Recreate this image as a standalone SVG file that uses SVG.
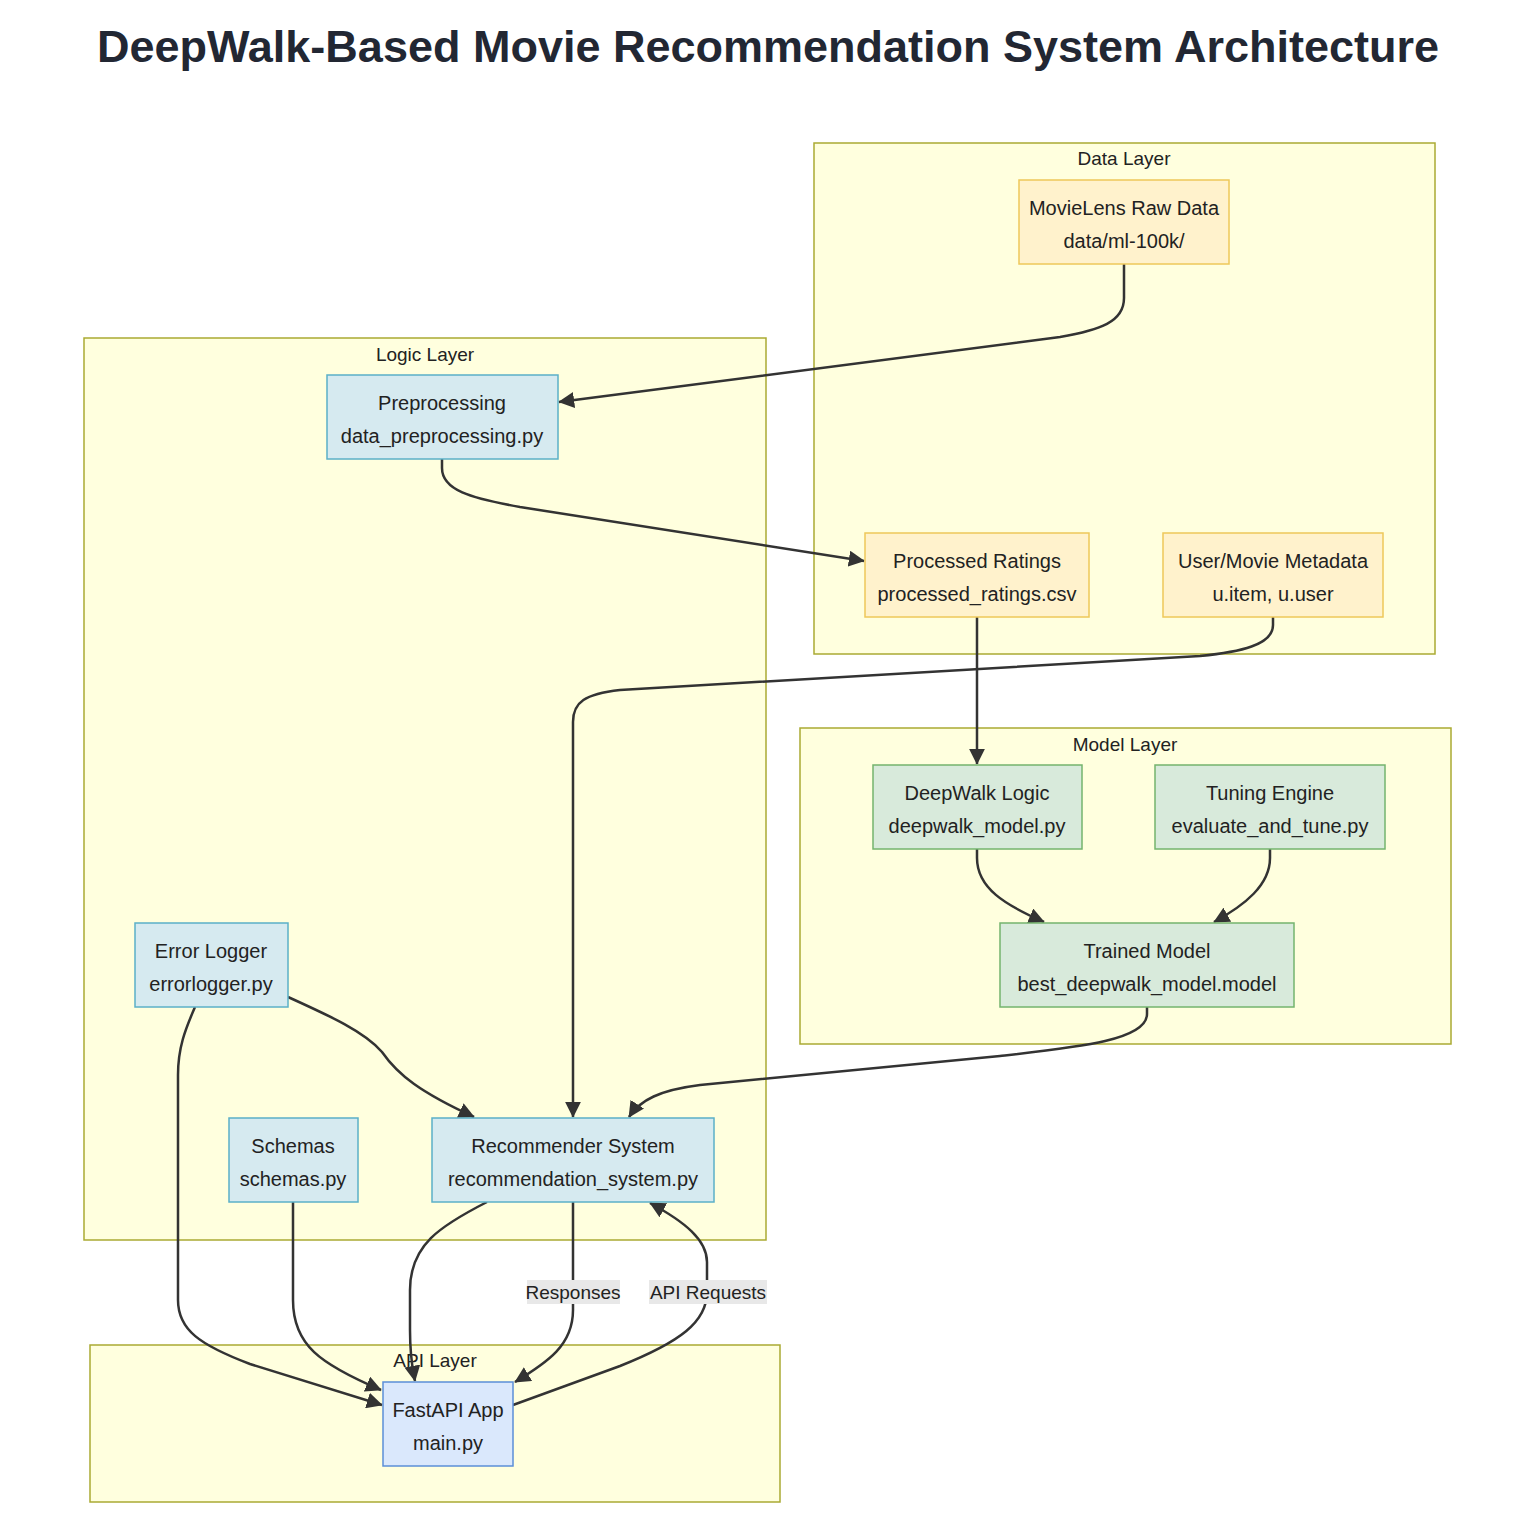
<svg xmlns="http://www.w3.org/2000/svg" width="1532" height="1540" viewBox="0 0 1532 1540">
<defs>
<marker id="arr" viewBox="0 0 10 10" refX="9.5" refY="5" markerWidth="16" markerHeight="16" markerUnits="userSpaceOnUse" orient="auto"><path d="M0,0 L10,5 L0,10 z" fill="#333"/></marker>
<style>
.bg{fill:#ffffff}
.cluster{fill:#ffffde;stroke:#aaaa33;stroke-width:1.5}
.ctitle{font-family:"Liberation Sans",Arial,sans-serif;font-size:19px;fill:#222;text-anchor:middle}
.t{font-family:"Liberation Sans",Arial,sans-serif;font-size:20px;fill:#222;text-anchor:middle}
.data rect{fill:#fff2cc;stroke:#eec85a;stroke-width:1.5}
.logic rect{fill:#d6eaf0;stroke:#5bb0c8;stroke-width:1.5}
.model rect{fill:#d8eadb;stroke:#74b46e;stroke-width:1.5}
.api rect{fill:#dae8fc;stroke:#5b8fd8;stroke-width:1.5}
.edge{fill:none;stroke:#333;stroke-width:2.5;marker-end:url(#arr)}
.lbl rect{fill:#e8e8e8}
.lbl text{font-family:"Liberation Sans",Arial,sans-serif;font-size:19px;fill:#222;text-anchor:middle}
.title{font-family:"Liberation Sans",Arial,sans-serif;font-size:45px;font-weight:bold;fill:#222733;text-anchor:middle}
</style>
</defs>
<rect class="bg" x="0" y="0" width="1532" height="1540"/>
<text class="title" x="768" y="62">DeepWalk-Based Movie Recommendation System Architecture</text>

<g id="clusters">
<g id="data-layer"><rect class="cluster" x="814" y="143" width="621" height="511"/><text class="ctitle" x="1124" y="165">Data Layer</text></g>
<g id="logic-layer"><rect class="cluster" x="84" y="338" width="682" height="902"/><text class="ctitle" x="425" y="361">Logic Layer</text></g>
<g id="model-layer"><rect class="cluster" x="800" y="728" width="651" height="316"/><text class="ctitle" x="1125" y="751">Model Layer</text></g>
<g id="api-layer"><rect class="cluster" x="90" y="1345" width="690" height="157"/><text class="ctitle" x="435" y="1367">API Layer</text></g>
</g>

<g id="edges">
<path class="edge" d="M1124,264 V298 C1124,322 1100,330 1060,337 L559,402"/>
<path class="edge" d="M442,459 V468 C442,490 470,498 520,507 L864,561"/>
<path class="edge" d="M977,617 V764"/>
<path class="edge" d="M1273,617 V625 C1273,645 1240,652 1200,656 L620,690 C585,694 573,702 573,722 V1117"/>
<path class="edge" d="M977,849 V858 C977,888 1005,905 1044,922"/>
<path class="edge" d="M1270,849 V858 C1270,885 1245,905 1214,922"/>
<path class="edge" d="M1147,1007 V1014 C1147,1040 1080,1047 1000,1056 L700,1085 C660,1090 640,1100 629,1117"/>
<path class="edge" d="M288,997 C330,1016 365,1032 382,1052 C398,1075 420,1092 474,1117"/>
<path class="edge" d="M195,1007 C185,1030 178,1048 178,1075 V1300 C178,1330 200,1345 250,1364 L382,1405"/>
<path class="edge" d="M293,1202 V1300 C293,1345 320,1364 381,1390"/>
<path class="edge" d="M487,1202 C440,1226 410,1245 410,1290 V1330 C410,1360 413,1370 415,1381"/>
<path class="edge" d="M573,1202 V1310 C573,1345 548,1362 515,1382"/>
<path class="edge" d="M513,1405 L620,1366 C680,1342 707,1322 707,1292 V1262 C707,1240 685,1222 650,1203"/>
<g class="lbl"><rect x="527" y="1280" width="93" height="24"/><text x="573" y="1299">Responses</text></g>
<g class="lbl"><rect x="649" y="1280" width="118" height="24"/><text x="708" y="1299">API Requests</text></g>
</g>

<g id="movielens" class="data"><rect x="1019" y="180" width="210" height="84"/><text class="t" x="1124" y="215">MovieLens Raw Data</text><text class="t" x="1124" y="248">data/ml-100k/</text></g>
<g id="processed" class="data"><rect x="865" y="533" width="224" height="84"/><text class="t" x="977" y="568">Processed Ratings</text><text class="t" x="977" y="601">processed_ratings.csv</text></g>
<g id="metadata" class="data"><rect x="1163" y="533" width="220" height="84"/><text class="t" x="1273" y="568">User/Movie Metadata</text><text class="t" x="1273" y="601">u.item, u.user</text></g>
<g id="preprocessing" class="logic"><rect x="327" y="375" width="231" height="84"/><text class="t" x="442" y="410">Preprocessing</text><text class="t" x="442" y="443">data_preprocessing.py</text></g>
<g id="errorlogger" class="logic"><rect x="135" y="923" width="153" height="84"/><text class="t" x="211" y="958">Error Logger</text><text class="t" x="211" y="991">errorlogger.py</text></g>
<g id="schemas" class="logic"><rect x="229" y="1118" width="129" height="84"/><text class="t" x="293" y="1153">Schemas</text><text class="t" x="293" y="1186">schemas.py</text></g>
<g id="recommender" class="logic"><rect x="432" y="1118" width="282" height="84"/><text class="t" x="573" y="1153">Recommender System</text><text class="t" x="573" y="1186">recommendation_system.py</text></g>
<g id="deepwalk" class="model"><rect x="873" y="765" width="209" height="84"/><text class="t" x="977" y="800">DeepWalk Logic</text><text class="t" x="977" y="833">deepwalk_model.py</text></g>
<g id="tuning" class="model"><rect x="1155" y="765" width="230" height="84"/><text class="t" x="1270" y="800">Tuning Engine</text><text class="t" x="1270" y="833">evaluate_and_tune.py</text></g>
<g id="trained" class="model"><rect x="1000" y="923" width="294" height="84"/><text class="t" x="1147" y="958">Trained Model</text><text class="t" x="1147" y="991">best_deepwalk_model.model</text></g>
<g id="fastapi" class="api"><rect x="383" y="1382" width="130" height="84"/><text class="t" x="448" y="1417">FastAPI App</text><text class="t" x="448" y="1450">main.py</text></g>
</svg>
